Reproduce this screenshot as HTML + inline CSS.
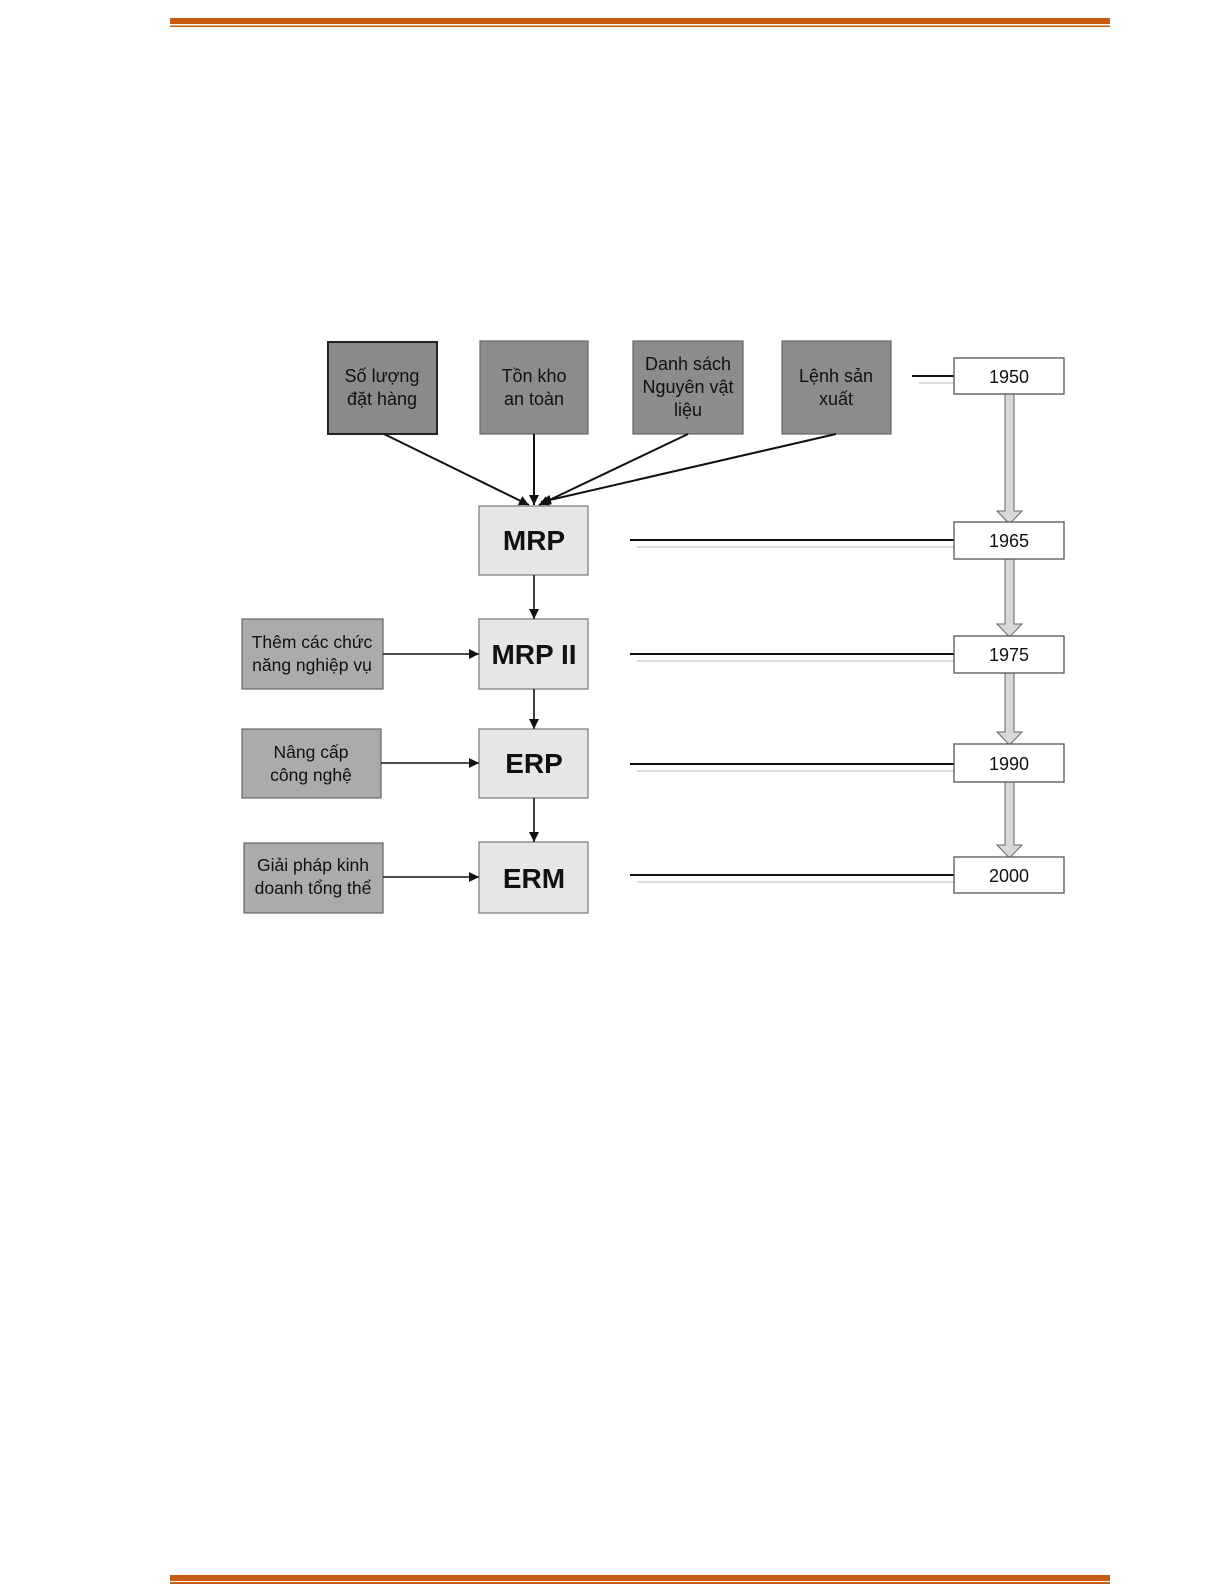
<!DOCTYPE html>
<html><head><meta charset="utf-8"><style>
html,body{margin:0;padding:0;background:#fff}
svg{display:block}
text{font-family:"Liberation Sans",Arial,sans-serif}
</style></head><body>
<svg width="1225" height="1585" viewBox="0 0 1225 1585" xmlns="http://www.w3.org/2000/svg">
<defs>
<marker id="ah" viewBox="0 0 10 10" refX="10" refY="5" markerWidth="10" markerHeight="10" markerUnits="userSpaceOnUse" orient="auto"><path d="M0,0 L10,5 L0,10 z" fill="#111"/></marker>
</defs>
<rect x="170" y="18" width="940" height="6" fill="#c55a11"/>
<rect x="170" y="25.5" width="940" height="1.5" fill="#c55a11"/>
<rect x="170" y="1575" width="940" height="6" fill="#c55a11"/>
<rect x="170" y="1582" width="940" height="2" fill="#c55a11"/>

<!-- top boxes -->
<g font-size="18" fill="#111" text-anchor="middle">
<rect x="328" y="342" width="109" height="92" fill="#8a8a8a" stroke="#222" stroke-width="2"/>
<text x="382" y="382">Số lượng</text><text x="382" y="405">đặt hàng</text>
<rect x="480" y="341" width="108" height="93" fill="#8c8c8c" stroke="#666" stroke-width="1.2"/>
<text x="534" y="382">Tồn kho</text><text x="534" y="405">an toàn</text>
<rect x="633" y="341" width="110" height="93" fill="#8c8c8c" stroke="#666" stroke-width="1.2"/>
<text x="688" y="370">Danh sách</text><text x="688" y="393">Nguyên vật</text><text x="688" y="416">liệu</text>
<rect x="782" y="341" width="109" height="93" fill="#8c8c8c" stroke="#666" stroke-width="1.2"/>
<text x="836" y="382">Lệnh sản</text><text x="836" y="405">xuất</text>
</g>

<!-- converging arrows -->
<g stroke="#111" stroke-width="2" fill="none">
<line x1="384" y1="434" x2="529" y2="505" marker-end="url(#ah)"/>
<line x1="534" y1="434" x2="534" y2="505" marker-end="url(#ah)"/>
<line x1="688" y1="434" x2="539" y2="505" marker-end="url(#ah)"/>
<line x1="836" y1="434" x2="541" y2="502" marker-end="url(#ah)"/>
</g>

<!-- main column -->
<g fill="#e6e6e6" stroke="#777" stroke-width="1.2">
<rect x="479" y="506" width="109" height="69"/>
<rect x="479" y="619" width="109" height="70"/>
<rect x="479" y="729" width="109" height="69"/>
<rect x="479" y="842" width="109" height="71"/>
</g>
<g font-size="28" font-weight="bold" fill="#111" text-anchor="middle">
<text x="534" y="550">MRP</text>
<text x="534" y="664">MRP II</text>
<text x="534" y="773">ERP</text>
<text x="534" y="888">ERM</text>
</g>
<g stroke="#111" stroke-width="1.6">
<line x1="534" y1="575" x2="534" y2="619" marker-end="url(#ah)"/>
<line x1="534" y1="689" x2="534" y2="729" marker-end="url(#ah)"/>
<line x1="534" y1="798" x2="534" y2="842" marker-end="url(#ah)"/>
</g>

<!-- left boxes -->
<g fill="#ababab" stroke="#666" stroke-width="1.2">
<rect x="242" y="619" width="141" height="70"/>
<rect x="242" y="729" width="139" height="69"/>
<rect x="244" y="843" width="139" height="70"/>
</g>
<g font-size="17.5" fill="#111" text-anchor="middle">
<text x="312" y="648">Thêm các chức</text><text x="312" y="671">năng nghiệp vụ</text>
<text x="311" y="758">Nâng cấp</text><text x="311" y="781">công nghệ</text>
<text x="313" y="871">Giải pháp kinh</text><text x="313" y="894">doanh tổng thể</text>
</g>
<g stroke="#111" stroke-width="1.6">
<line x1="383" y1="654" x2="479" y2="654" marker-end="url(#ah)"/>
<line x1="381" y1="763" x2="479" y2="763" marker-end="url(#ah)"/>
<line x1="383" y1="877" x2="479" y2="877" marker-end="url(#ah)"/>
</g>

<!-- horizontal timeline lines -->
<g stroke="#ddd" stroke-width="2">
<line x1="919" y1="383" x2="962" y2="383"/>
<line x1="637" y1="547" x2="962" y2="547"/>
<line x1="637" y1="661" x2="962" y2="661"/>
<line x1="637" y1="771" x2="962" y2="771"/>
<line x1="637" y1="882" x2="962" y2="882"/>
</g>
<g stroke="#111" stroke-width="2">
<line x1="912" y1="376" x2="954" y2="376"/>
<line x1="630" y1="540" x2="954" y2="540"/>
<line x1="630" y1="654" x2="954" y2="654"/>
<line x1="630" y1="764" x2="954" y2="764"/>
<line x1="630" y1="875" x2="954" y2="875"/>
</g>

<!-- gray block arrows -->
<g fill="#d8d8d4" stroke="#666" stroke-width="1">
<path d="M1005,394 L1014,394 L1014,511 L1022,511 L1009.5,524 L997,511 L1005,511 z"/>
<path d="M1005,559 L1014,559 L1014,624 L1022,624 L1009.5,637 L997,624 L1005,624 z"/>
<path d="M1005,673 L1014,673 L1014,732 L1022,732 L1009.5,745 L997,732 L1005,732 z"/>
<path d="M1005,782 L1014,782 L1014,845 L1022,845 L1009.5,858 L997,845 L1005,845 z"/>
</g>

<!-- year boxes -->
<g fill="#fff" stroke="#555" stroke-width="1.3">
<rect x="954" y="358" width="110" height="36"/>
<rect x="954" y="522" width="110" height="37"/>
<rect x="954" y="636" width="110" height="37"/>
<rect x="954" y="744" width="110" height="38"/>
<rect x="954" y="857" width="110" height="36"/>
</g>
<g font-size="18" fill="#111" text-anchor="middle">
<text x="1009" y="383">1950</text>
<text x="1009" y="547">1965</text>
<text x="1009" y="661">1975</text>
<text x="1009" y="770">1990</text>
<text x="1009" y="882">2000</text>
</g>
</svg>
</body></html>
